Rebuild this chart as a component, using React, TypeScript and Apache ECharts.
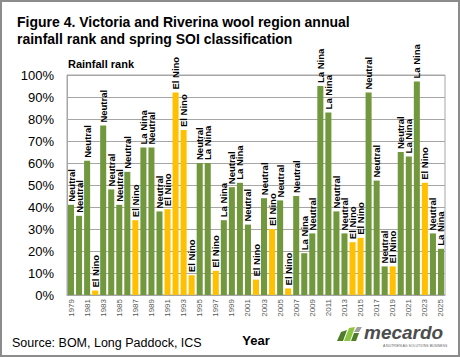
import React, { useEffect, useRef } from "react";
import * as echarts from "echarts";

const years = [
  "1979", "1980", "1981", "1982", "1983", "1984", "1985", "1986", "1987", "1988",
  "1989", "1990", "1991", "1992", "1993", "1994", "1995", "1996", "1997", "1998",
  "1999", "2000", "2001", "2002", "2003", "2004", "2005", "2006", "2007", "2008",
  "2009", "2010", "2011", "2012", "2013", "2014", "2015", "2016", "2017", "2018",
  "2019", "2020", "2021", "2022", "2023", "2024", "2025",
];

const rainfallRank = [
  41, 36, 61, 2, 77, 48, 41, 56, 34, 67,
  67, 38, 39, 92, 75, 9, 60, 60, 11, 34,
  49, 51, 32, 7, 44, 30, 43, 3, 45, 19,
  28, 95, 83, 38, 28, 24, 26, 92, 52, 13,
  13, 65, 63, 97, 51, 28, 21,
];

const soiClass = [
  "Neutral", "Neutral", "Neutral", "El Nino", "Neutral", "Neutral", "Neutral", "Neutral", "El Nino", "La Nina",
  "Neutral", "Neutral", "El Nino", "El Nino", "El Nino", "El Nino", "Neutral", "La Nina", "El Nino", "La Nina",
  "Neutral", "La Nina", "Neutral", "El Nino", "Neutral", "El Nino", "Neutral", "El Nino", "Neutral", "La Nina",
  "Neutral", "La Nina", "La Nina", "Neutral", "Neutral", "El Nino", "El Nino", "Neutral", "Neutral", "Neutral",
  "El Nino", "Neutral", "La Nina", "La Nina", "El Nino", "Neutral", "La Nina",
];

const yTicks = [0, 10, 20, 30, 40, 50, 60, 70, 80, 90, 100];

const GREEN = "#71983d";
const YELLOW = "#ffc000";
const FONT = 'Arial, "Liberation Sans", sans-serif';

export default function App() {
  const ref = useRef<HTMLDivElement>(null);

  useEffect(() => {
    if (!ref.current) return;
    const chart = echarts.init(ref.current, undefined, { renderer: "svg" });

    const data = rainfallRank.map((v, i) => ({
      value: v,
      itemStyle: { color: soiClass[i] === "El Nino" ? YELLOW : GREEN },
    }));

    chart.setOption({
      animation: false,
      backgroundColor: "#ffffff",
      title: {
        text: "Figure 4. Victoria and Riverina wool region annual\nrainfall rank and spring SOI classification",
        left: 12,
        top: 8,
        textStyle: {
          fontFamily: FONT,
          fontSize: 14,
          fontWeight: "bold",
          color: "#000",
          lineHeight: 17,
        },
      },
      grid: {
        left: 67,
        right: 15,
        top: 75,
        bottom: 62,
        show: true,
        borderColor: "#a6a6a6",
        borderWidth: 1,
        backgroundColor: "transparent",
      },
      xAxis: {
        type: "category",
        data: years,
        name: "Year",
        nameLocation: "middle",
        nameGap: 39,
        nameTextStyle: {
          fontFamily: FONT,
          fontSize: 13,
          fontWeight: "bold",
          color: "#000",
        },
        axisLine: { lineStyle: { color: "#a6a6a6" } },
        axisTick: { interval: 0, length: 4, lineStyle: { color: "#a6a6a6" } },
        axisLabel: {
          interval: 1,
          rotate: 90,
          fontFamily: FONT,
          fontSize: 8,
          color: "#595959",
          margin: 4,
        },
      },
      yAxis: {
        type: "value",
        min: yTicks[0],
        max: yTicks[yTicks.length - 1],
        interval: 10,
        axisLine: { show: true, lineStyle: { color: "#a6a6a6" } },
        axisTick: { show: false },
        splitLine: { lineStyle: { color: "#a6a6a6", width: 1 } },
        axisLabel: {
          formatter: "{value}%",
          fontFamily: FONT,
          fontSize: 13,
          color: "#000",
          margin: 13,
        },
      },
      series: [
        {
          type: "bar",
          data,
          barCategoryGap: "25%",
          label: {
            show: true,
            position: "top",
            rotate: 90,
            align: "left",
            verticalAlign: "middle",
            distance: 3,
            fontFamily: FONT,
            fontSize: 9.5,
            fontWeight: "bold",
            color: "#000",
            formatter: (p: any) => soiClass[p.dataIndex],
          },
        },
      ],
      graphic: [
        {
          type: "rect",
          shape: { x: 1, y: 1, width: 458, height: 355 },
          style: { fill: "none", stroke: "#8c8c8c", lineWidth: 2 },
          silent: true,
        },
        {
          type: "text",
          left: 68,
          top: 58,
          style: {
            text: "Rainfall rank",
            fontFamily: FONT,
            fontSize: 11,
            fontWeight: "bold",
            fill: "#000",
          },
        },
        {
          type: "text",
          left: 12,
          top: 336,
          style: {
            text: "Source: BOM, Long Paddock, ICS",
            fontFamily: FONT,
            fontSize: 12.5,
            fill: "#000",
          },
        },
        {
          type: "polygon",
          shape: { points: [[337, 341], [343, 341], [347, 330], [341, 332]] },
          style: { fill: "#4f7d2a" },
        },
        {
          type: "polygon",
          shape: { points: [[344, 341], [350, 341], [355, 327], [349, 328]] },
          style: { fill: "#8cc63f" },
        },
        {
          type: "polygon",
          shape: { points: [[351, 341], [356, 341], [359, 333], [354, 333]] },
          style: { fill: "#4f7d2a" },
        },
        {
          type: "polygon",
          shape: { points: [[354, 332], [359, 332], [362, 327], [357, 327]] },
          style: { fill: "#a0a0a0" },
        },
        {
          type: "text",
          left: 364,
          top: 323,
          style: {
            text: "mecardo",
            fontFamily: FONT,
            fontSize: 19,
            fontWeight: "bold",
            fontStyle: "italic",
            fill: "#4d4d4d",
          },
        },
        {
          type: "text",
          left: 383,
          top: 344,
          style: {
            text: "A NUTRIEN AG SOLUTIONS BUSINESS",
            fontFamily: FONT,
            fontSize: 3.5,
            fill: "#666",
          },
        },
      ],
    });

    return () => chart.dispose();
  }, []);

  return (
    <div
      ref={ref}
      style={{ position: "absolute", left: 0, top: 0, width: 460, height: 357 }}
    />
  );
}
